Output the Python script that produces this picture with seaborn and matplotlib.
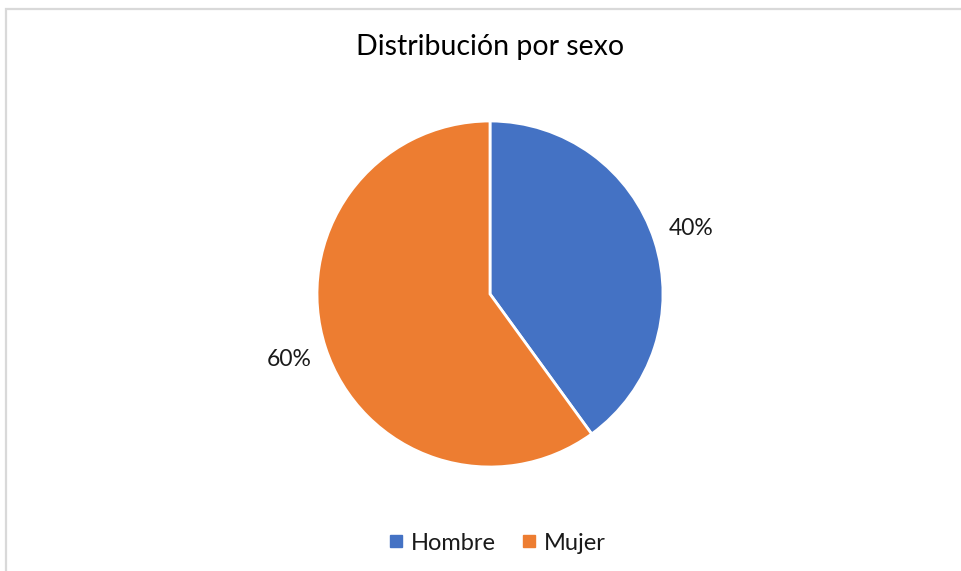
import matplotlib
matplotlib.use("Agg")
import matplotlib.pyplot as plt
from matplotlib.patches import Rectangle
from matplotlib.lines import Line2D
import seaborn as sns

categories = ["Hombre", "Mujer"]
values = [40, 60]
colors = ["#4472C4", "#ED7D31"]
title = "Distribución por sexo"

sns.set_theme(style="white")
plt.rcParams["font.family"] = ["Lato", "DejaVu Sans"]

W, H = 962, 571
fig = plt.figure(figsize=(W / 100, H / 100), dpi=100)
fig.patch.set_facecolor("white")

# border
fig.patches.append(Rectangle((6 / W, -0.1), 1.2, (H - 8.5) / H + 0.1,
                             transform=fig.transFigure, fill=False,
                             edgecolor="#D9D9D9", linewidth=1.6))

cx, cy, r = 490, 294, 173
ax = fig.add_axes([(cx - r) / W, (H - cy - r) / H, 2 * r / W, 2 * r / H])
wedges, texts, autotexts = ax.pie(
    values, colors=colors, startangle=90, counterclock=False,
    autopct="%1.0f%%", pctdistance=1.22, radius=1,
    wedgeprops=dict(edgecolor="white", linewidth=2),
    textprops=dict(fontsize=16.5, color="#1a1a1a"))
ax.set_xlim(-1, 1)
ax.set_ylim(-1, 1)
ax.set_aspect("equal")
ax.axis("off")

fig.text(490 / W, 1 - 47 / H, title, ha="center", va="center",
         fontsize=20.5, color="#000000")

handles = [Line2D([0], [0], marker="s", linestyle="none", markersize=9,
                  markerfacecolor=c, markeredgecolor=c) for c in colors]
fig.legend(handles, categories, loc="center", bbox_to_anchor=(495 / W, 1 - 543 / H),
           ncol=2, frameon=False, fontsize=17, handletextpad=0.15,
           columnspacing=0.9, handlelength=1.0, labelcolor="#1a1a1a")

fig.savefig("out.png", dpi=100)
